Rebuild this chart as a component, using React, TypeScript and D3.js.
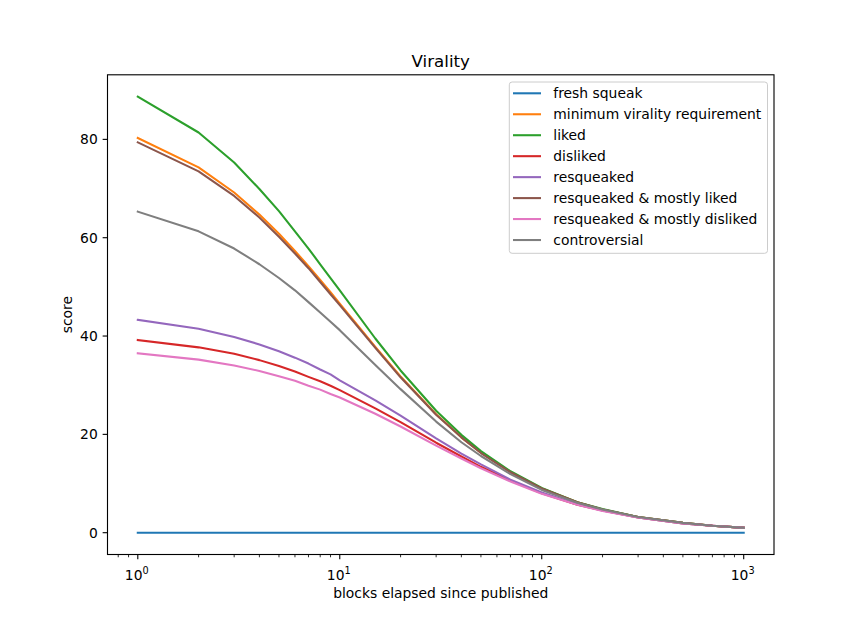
import React from "react";
import * as d3 from "d3";

const blocks = [1, 2, 3, 4, 5, 6, 7, 8, 9, 10, 15, 20, 30, 40, 50, 70, 100, 150, 200, 300, 500, 700, 1000];

const freshSqueak = [0, 0, 0, 0, 0, 0, 0, 0, 0, 0, 0, 0, 0, 0, 0, 0, 0, 0, 0, 0, 0, 0, 0];
const minimumVirality = [80.3, 74.3, 69.2, 64.7, 60.8, 57.3, 54.2, 51.4, 48.9, 46.6, 37.8, 31.8, 24.1, 19.4, 16.3, 12.3, 9.0, 6.2, 4.7, 3.2, 2.0, 1.4, 1.0];
const liked = [88.7, 81.4, 75.3, 69.9, 65.4, 61.3, 57.8, 54.6, 51.8, 49.3, 39.5, 33.0, 24.8, 19.9, 16.6, 12.5, 9.1, 6.2, 4.8, 3.2, 2.0, 1.4, 1.0];
const disliked = [39.2, 37.7, 36.4, 35.1, 33.9, 32.8, 31.7, 30.8, 29.9, 29.0, 25.3, 22.5, 18.3, 15.5, 13.4, 10.6, 8.0, 5.7, 4.5, 3.1, 1.9, 1.4, 1.0];
const resqueaked = [43.3, 41.5, 39.8, 38.3, 36.9, 35.6, 34.4, 33.2, 32.2, 31.0, 26.9, 23.8, 19.2, 16.1, 13.9, 10.8, 8.2, 5.8, 4.5, 3.1, 1.9, 1.4, 1.0];
const resqueakedLiked = [79.4, 73.5, 68.5, 64.1, 60.2, 56.8, 53.8, 51.0, 48.5, 46.3, 37.6, 31.6, 24.0, 19.4, 16.2, 12.3, 9.0, 6.2, 4.7, 3.2, 2.0, 1.4, 1.0];
const resqueakedDisliked = [36.5, 35.2, 34.0, 32.9, 31.8, 30.9, 29.9, 29.1, 28.2, 27.5, 24.2, 21.6, 17.7, 15.1, 13.1, 10.4, 7.9, 5.7, 4.4, 3.1, 1.9, 1.4, 1.0];
const controversial = [65.3, 61.3, 57.8, 54.6, 51.8, 49.3, 46.9, 44.8, 42.9, 41.2, 34.1, 29.2, 22.6, 18.4, 15.6, 11.9, 8.7, 6.1, 4.7, 3.2, 2.0, 1.4, 1.0];

const seriesNames = [
  "fresh squeak",
  "minimum virality requirement",
  "liked",
  "disliked",
  "resqueaked",
  "resqueaked & mostly liked",
  "resqueaked & mostly disliked",
  "controversial",
];
const seriesValues = [freshSqueak, minimumVirality, liked, disliked, resqueaked, resqueakedLiked, resqueakedDisliked, controversial];
const colors = ["#1f77b4", "#ff7f0e", "#2ca02c", "#d62728", "#9467bd", "#8c564b", "#e377c2", "#7f7f7f"];

const yTicks = [0, 20, 40, 60, 80];
const xMajorTicks = [1, 10, 100, 1000];
const xTickExps = ["0", "1", "2", "3"];

const W = 860;
const H = 623;
const left = 107.5;
const right = 774;
const top = 74.8;
const bottom = 554.5;
const FONT = "DejaVu Sans, sans-serif";
const FS = 13.89;

export default function App() {
  const allVals = seriesValues.flat();
  const yMin = d3.min(allVals) as number;
  const yMax = d3.max(allVals) as number;
  const yPad = (yMax - yMin) * 0.05;
  const lx0 = Math.log10(blocks[0]);
  const lx1 = Math.log10(blocks[blocks.length - 1]);
  const xPad = (lx1 - lx0) * 0.05;

  const x = d3.scaleLog().domain([Math.pow(10, lx0 - xPad), Math.pow(10, lx1 + xPad)]).range([left, right]);
  const y = d3.scaleLinear().domain([yMin - yPad, yMax + yPad]).range([bottom, top]);

  const line = d3
    .line<number>()
    .x((_, i) => x(blocks[i]))
    .y((d) => y(d));

  const [dx0, dx1] = x.domain();
  const minorTicks: number[] = [];
  for (let e = -1; e <= 3; e++) {
    for (let m = 2; m <= 9; m++) {
      const v = m * Math.pow(10, e);
      if (v >= dx0 && v <= dx1) minorTicks.push(v);
    }
  }

  const legX0 = 509.3;
  const legX1 = 767.5;
  const legY0 = 82;
  const legY1 = 253.3;

  return (
    <svg width={W} height={H} style={{ position: "absolute", left: 0, top: 0, background: "#fff" }} fontFamily={FONT}>
      <rect x={0} y={0} width={W} height={H} fill="#fff" />
      <defs>
        <clipPath id="plotclip">
          <rect x={left} y={top} width={right - left} height={bottom - top} />
        </clipPath>
      </defs>
      <g clipPath="url(#plotclip)">
        {seriesValues.map((vals, i) => (
          <path key={i} d={line(vals) || ""} fill="none" stroke={colors[i]} strokeWidth={2.08} strokeLinejoin="round" strokeLinecap="square" />
        ))}
      </g>
      <rect x={left} y={top} width={right - left} height={bottom - top} fill="none" stroke="#000" strokeWidth={1.11} />
      {/* x axis ticks */}
      {xMajorTicks.map((t, i) => (
        <g key={t}>
          <line x1={x(t)} x2={x(t)} y1={bottom} y2={bottom + 4.86} stroke="#000" strokeWidth={1.11} />
          <text x={x(t) - 1} y={579.5} fontSize={FS} textAnchor="middle" fill="#000">
            10
            <tspan fontSize={FS * 0.7} dy={-5.5}>{xTickExps[i]}</tspan>
          </text>
        </g>
      ))}
      {minorTicks.map((t) => (
        <line key={t} x1={x(t)} x2={x(t)} y1={bottom} y2={bottom + 2.78} stroke="#000" strokeWidth={0.83} />
      ))}
      {/* y axis ticks */}
      {yTicks.map((t) => (
        <g key={t}>
          <line x1={left} x2={left - 4.86} y1={y(t)} y2={y(t)} stroke="#000" strokeWidth={1.11} />
          <text x={left - 9.72} y={y(t)} dy="0.35em" fontSize={FS} textAnchor="end" fill="#000">
            {t}
          </text>
        </g>
      ))}
      <text x={(left + right) / 2} y={598} fontSize={FS} textAnchor="middle" fill="#000">
        blocks elapsed since published
      </text>
      <text transform={`translate(71.5, ${(top + bottom) / 2}) rotate(-90)`} fontSize={FS} textAnchor="middle" fill="#000">
        score
      </text>
      <text x={(left + right) / 2} y={66.7} fontSize={16.67} textAnchor="middle" fill="#000">
        Virality
      </text>
      {/* legend */}
      <rect x={legX0} y={legY0} width={legX1 - legX0} height={legY1 - legY0} rx={2.8} fill="#fff" fillOpacity={0.8} stroke="#cccccc" strokeWidth={1} />
      {seriesNames.map((name, i) => {
        const cy = 93.3 + i * 20.96;
        return (
          <g key={name}>
            <line x1={513} x2={541} y1={cy} y2={cy} stroke={colors[i]} strokeWidth={2.08} />
            <text x={553.3} y={cy} dy="0.35em" fontSize={FS} fill="#000">
              {name}
            </text>
          </g>
        );
      })}
    </svg>
  );
}
